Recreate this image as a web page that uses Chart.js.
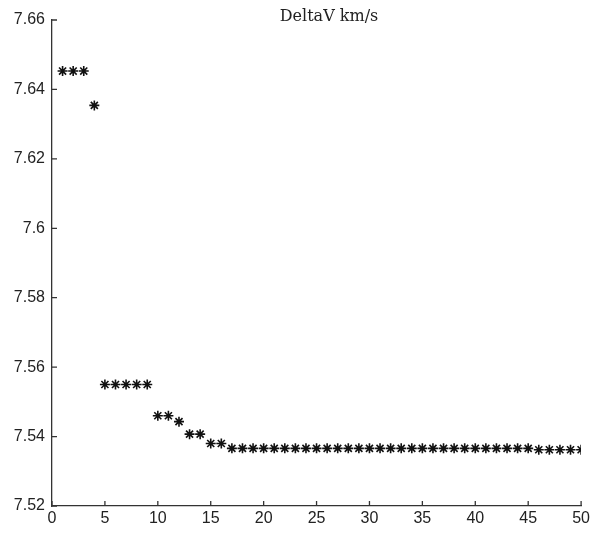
<!DOCTYPE html>
<html>
<head>
<meta charset="utf-8">
<script src="https://cdn.jsdelivr.net/npm/chart.js@4"></script>
<style>
  body { margin: 0; background: #fff; }
</style>
</head>
<body>
<canvas id="chart" width="593" height="533"></canvas>
<script>
// iteration number and DeltaV value (km/s)
const iterations = [
    1, 2, 3, 4, 5, 6, 7, 8, 9, 10,
    11, 12, 13, 14, 15, 16, 17, 18, 19, 20,
    21, 22, 23, 24, 25, 26, 27, 28, 29, 30,
    31, 32, 33, 34, 35, 36, 37, 38, 39, 40,
    41, 42, 43, 44, 45, 46, 47, 48, 49, 50
];
const deltaV = [
    7.6453, 7.6453, 7.6453, 7.6354, 7.555, 7.555, 7.555, 7.555, 7.555, 7.546,
    7.546, 7.5443, 7.5407, 7.5407, 7.538, 7.538, 7.5366, 7.5366, 7.5366, 7.5366,
    7.5366, 7.5366, 7.5366, 7.5366, 7.5366, 7.5366, 7.5366, 7.5366, 7.5366, 7.5366,
    7.5366, 7.5366, 7.5366, 7.5366, 7.5366, 7.5366, 7.5366, 7.5366, 7.5366, 7.5366,
    7.5366, 7.5366, 7.5366, 7.5366, 7.5366, 7.5362, 7.5362, 7.5362, 7.5362, 7.5362
];
const titleText = "DeltaV km/s";

const axisColor = "#333";
const tickFont = { family: "'Liberation Sans'", size: 16 };

// matlab style: tick marks point into the plot
const innerTicks = {
    id: "innerTicks",
    afterDraw(chart) {
        const { ctx, chartArea, scales } = chart;
        ctx.save();
        ctx.strokeStyle = axisColor;
        ctx.lineWidth = 1.3;
        ctx.beginPath();
        scales.x.ticks.forEach(t => {
            const px = scales.x.getPixelForValue(t.value);
            ctx.moveTo(px, chartArea.bottom);
            ctx.lineTo(px, chartArea.bottom - 5);
        });
        scales.y.ticks.forEach(t => {
            const py = scales.y.getPixelForValue(t.value);
            ctx.moveTo(chartArea.left, py);
            ctx.lineTo(chartArea.left + 5, py);
        });
        ctx.stroke();

        ctx.fillStyle = "#222";
        ctx.font = "16px 'DejaVu Serif'";
        ctx.textAlign = "center";
        ctx.textBaseline = "alphabetic";
        ctx.fillText(titleText, 329, 21);
        ctx.restore();
    }
};

const createChart = () => {
    const ctx = document.querySelector("canvas#chart");

    new Chart(ctx, {
        type: "scatter",
        data: {
            datasets: [{
                label: titleText,
                data: iterations.map((x, i) => ({ x: x, y: deltaV[i] })),
                pointStyle: "star",
                pointRadius: 5,
                pointBorderWidth: 1.6,
                borderColor: "#111",
                backgroundColor: "#111",
                showLine: false
            }]
        },
        options: {
            responsive: false,
            animation: false,
            layout: { padding: { top: 20, right: 11, left: 0, bottom: 0 } },
            plugins: {
                legend: { display: false },
                tooltip: { enabled: false }
            },
            scales: {
                x: {
                    type: "linear",
                    min: 0,
                    max: 50,
                    grid: { display: false, drawTicks: false },
                    border: { display: true, color: axisColor, width: 1.3 },
                    ticks: {
                        stepSize: 5,
                        padding: 3,
                        color: "#222",
                        font: tickFont
                    },
                    afterFit(scale) { scale.height = 27; }
                },
                y: {
                    min: 7.52,
                    max: 7.66,
                    grid: { display: false, drawTicks: false },
                    border: { display: true, color: axisColor, width: 1.3 },
                    ticks: {
                        stepSize: 0.02,
                        padding: 7,
                        color: "#222",
                        font: tickFont,
                        callback: v => String(parseFloat(v.toFixed(4)))
                    },
                    afterFit(scale) { scale.width = 52; }
                }
            }
        },
        plugins: [innerTicks]
    });
};

createChart();
</script>
</body>
</html>
